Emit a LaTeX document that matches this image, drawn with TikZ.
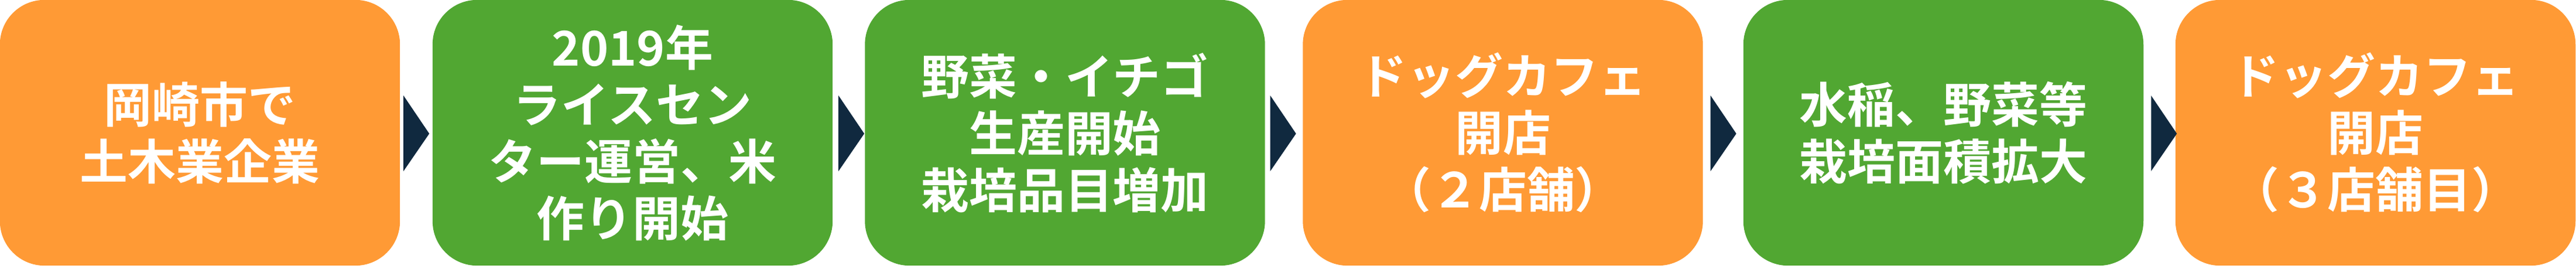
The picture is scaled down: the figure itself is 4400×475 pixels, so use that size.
\documentclass[tikz,border=0pt]{standalone}
\usepackage{fontspec}
\newfontfamily\jp{Noto Sans CJK JP Bold}
\definecolor{orangec}{HTML}{FF9A35}
\definecolor{greenc}{HTML}{51A732}
\definecolor{navyc}{HTML}{10293F}
\tikzset{
  stepbox/.style={minimum width=6.83cm, minimum height=4.53cm, rounded corners=0.76cm,
    inner sep=0pt, outer sep=0pt, text=white, align=center,
    font=\jp\fontsize{23.3pt}{27.6pt}\selectfont},
  orangebox/.style={stepbox, fill=orangec},
  greenbox/.style={stepbox, fill=greenc},
  chevron/.style={fill=navyc}
}
\newcommand\arrowfrom[2]{\fill[chevron] ([shift={(#2,-65.5)}]#1.east) -- ([shift={(#2+44,-1.5)}]#1.east) -- ([shift={(#2,63.5)}]#1.east) -- cycle;}
\begin{document}
\begin{tikzpicture}[x=0.01cm,y=0.01cm]
\useasboundingbox (0,0) rectangle (4400,475);
\node[orangebox] (b1) at (341.5,248.5) {岡崎市で\\土木業企業};
\node[greenbox]  (b2) at (1080.5,248.5) {2019年\\ライスセン\\ター運営、米\\作り開始};
\node[greenbox]  (b3) at (1819,248.5) {野菜・イチゴ\\生産開始\\栽培品目増加};
\node[orangebox] (b4) at (2567,248.5) {ドッグカフェ\\開店\\（２店舗）};
\node[greenbox]  (b5) at (3319.5,248.5) {水稲、野菜等\\栽培面積拡大};
\node[orangebox] (b6) at (4057.5,248.5) {ドッグカフェ\\開店\\（３店舗目）};
\arrowfrom{b1}{6}
\arrowfrom{b2}{10}
\arrowfrom{b3}{9}
\arrowfrom{b4}{13}
\arrowfrom{b5}{13}
\end{tikzpicture}
\end{document}
